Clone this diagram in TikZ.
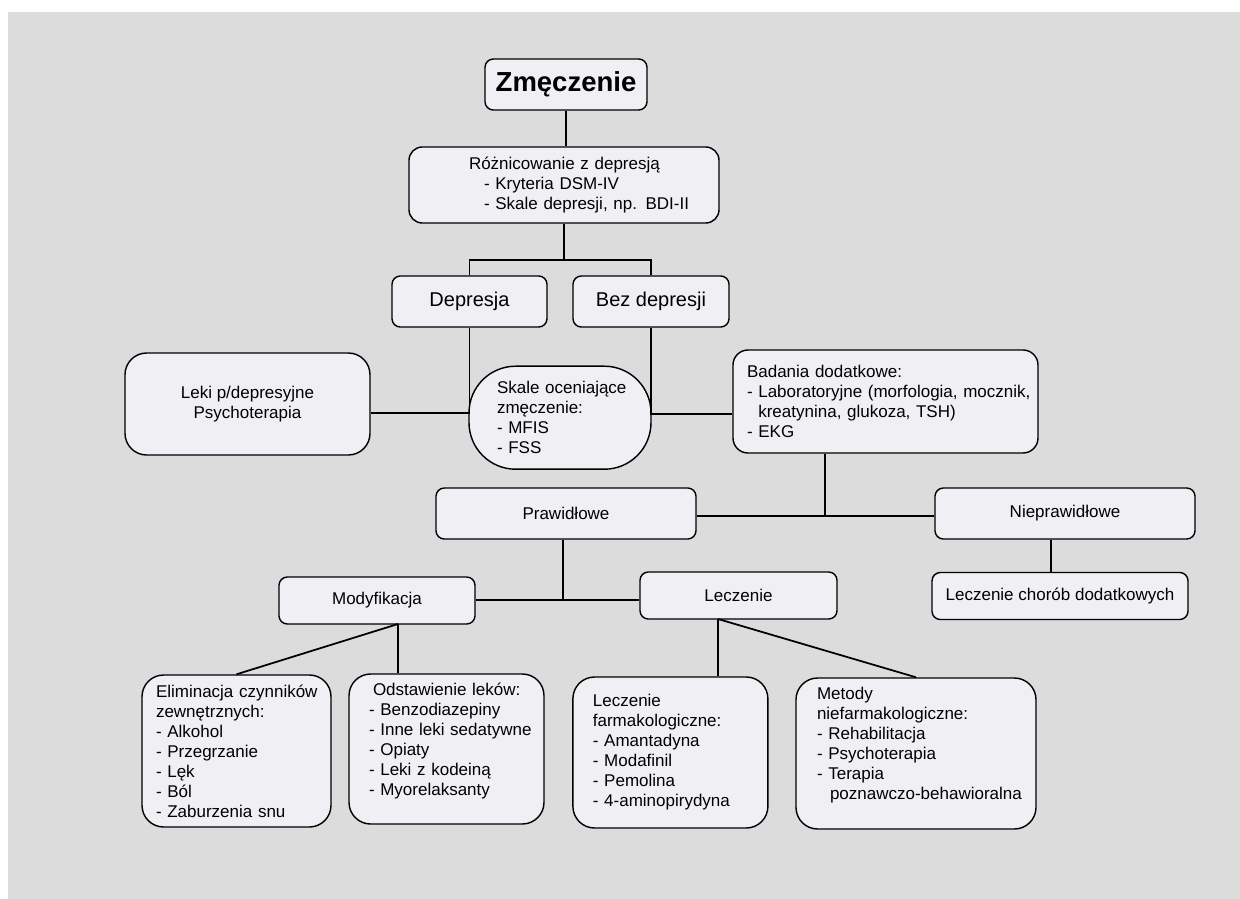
\documentclass[tikz,border=0pt]{standalone}
\usepackage{fontspec}
\setmainfont{Liberation Sans}
\usetikzlibrary{positioning}
\def\px{0.6pt}
\definecolor{bggray}{RGB}{220,220,220}
\definecolor{boxfill}{RGB}{240,240,244}
\tikzset{
  box/.style={draw,fill=boxfill,line width=0.85pt,rounded corners=5pt,
    inner sep=0pt,align=center,font=\fontsize{10.2}{12}\selectfont},
  big/.style={rounded corners=13pt},
  dims/.style 2 args={minimum width=#1*\px,minimum height=#2*\px},
  lft/.style n args={3}{text width=#1*\px-4*\px,inner xsep=2*\px,
    minimum height=#2*\px,align=left,
    execute at begin node={\pgfmathsetlength\leftskip{#3*\px-2*\px}}},
  link/.style={line width=1.05pt},
}
\newcommand{\newBox}[4]{\node[box,#3](#1) at (#4){#2};}
\newcommand{\newLink}[2]{\draw[link] (#1) -- (#2);}

\begin{document}
\begin{tikzpicture}[x=\px,y=-\px]
    \useasboundingbox (0,0) rectangle (1240,899);
    \fill[bggray] (8,12) rectangle (1240,899);
    % boxes
    \newBox{zm}{Zmęczenie}{dims={162}{51},font=\fontsize{16.5}{20}\selectfont\bfseries}{566,84.5}
    \newBox{roz}{Różnicowanie z depresją\\\hspace*{9pt}- Kryteria DSM-IV\\\hspace*{9pt}- Skale depresji, np. BDI-II}{lft={310}{76}{60},rounded corners=8pt}{564,185}
    \newBox{dep}{Depresja}{dims={155}{51},font=\fontsize{12}{14}\selectfont}{469.5,301.5}
    \newBox{bez}{Bez depresji}{dims={156}{51},font=\fontsize{12}{14}\selectfont}{651,301.5}
    \newBox{leki}{Leki p/depresyjne\\Psychoterapia}{dims={245}{102},big}{247.5,404}
    \newBox{ska}{Skale oceniające\\zmęczenie:\\- MFIS\\- FSS}{lft={182}{103}{28},rounded corners=28pt}{560,417.7}
    \newBox{bad}{Badania dodatkowe:\\- Laboratoryjne (morfologia, mocznik,\\\phantom{- }kreatynina, glukoza, TSH)\\- EKG}{lft={305}{103}{14},rounded corners=9pt}{885.5,401.5}
    \newBox{pra}{Prawidłowe}{dims={260}{51}}{566,513.5}
    \newBox{nie}{Nieprawidłowe}{dims={260}{51}}{1065,513.5}
    \newBox{lcd}{Leczenie chorób dodatkowych}{dims={256}{47}}{1060,596}
    \newBox{mod}{Modyfikacja}{dims={196}{47}}{377,600.5}
    \newBox{lec}{Leczenie}{dims={197}{47}}{738.5,595.5}
    \newBox{eli}{Eliminacja czynników\\zewnętrznych:\\- Alkohol\\- Przegrzanie\\- Lęk\\- Ból\\- Zaburzenia snu}{lft={189}{152}{14},big}{236.5,751}
    \newBox{ods}{\hspace*{2.4pt}Odstawienie leków:\\- Benzodiazepiny\\- Inne leki sedatywne\\- Opiaty\\- Leki z kodeiną\\- Myorelaksanty\\\mbox{}}{lft={195}{150}{20},big}{446.5,749}
    \newBox{lfa}{Leczenie\\farmakologiczne:\\- Amantadyna\\- Modafinil\\- Pemolina\\- 4-aminopirydyna}{lft={195}{151}{20},big}{670.4,752.5}
    \newBox{met}{Metody\\niefarmakologiczne:\\- Rehabilitacja\\- Psychoterapia\\- Terapia\\\hspace*{7.8pt}poznawczo-behawioralna\\\mbox{}}{lft={240}{151}{21},big}{916,753.5}
    % connectors
    \coordinate (j1) at (564,260);
    \coordinate (j2) at (469.5,413);
    \coordinate (j3) at (651,414);
    \coordinate (j4) at (825,516);
    \coordinate (j5) at (1051,555);
    \coordinate (j6) at (563,600);
    \coordinate (j7) at (398,624);
    \coordinate (j8) at (718,619);
    \newLink{zm.south}{zm.south |- roz.north}
    \newLink{roz.south}{j1}
    \draw[link] (dep.north) |- (j1) -| (bez.north);
    \draw[link] (dep.south) -- (j2) -- (leki.east |- j2);
    \draw[link] (bez.south) -- (j3) -- (bad.west |- j3);
    \newLink{j4 |- bad.south}{j4}
    \newLink{pra.east |- j4}{nie.west |- j4}
    \newLink{j5 |- nie.south}{j5 |- lcd.north}
    \newLink{pra.south -| j6}{j6}
    \newLink{mod.east |- j6}{lec.west |- j6}
    \newLink{j7}{j7 |- ods.north}
    \newLink{j7}{eli.north}
    \newLink{j8}{j8 |- lfa.north}
    \newLink{j8}{met.north}
\end{tikzpicture}
\end{document}
